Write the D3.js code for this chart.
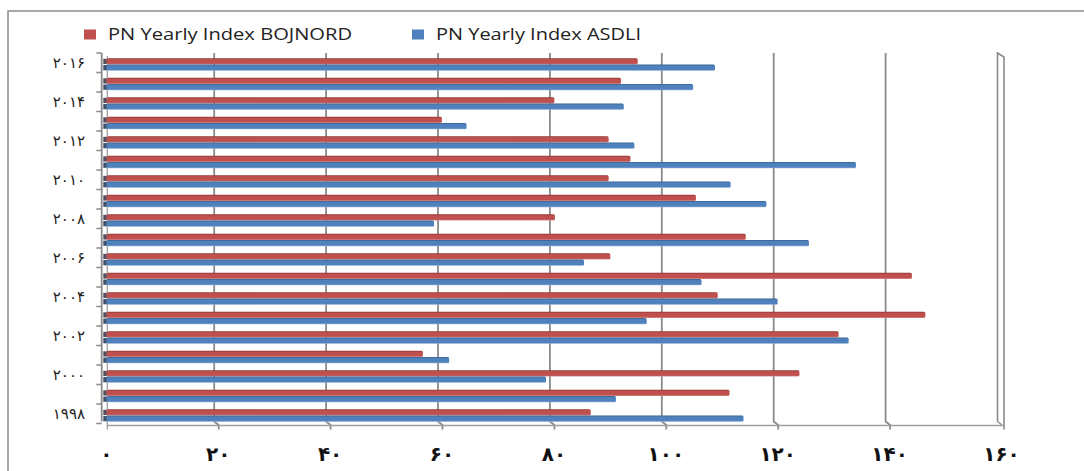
<!DOCTYPE html>
<html>
<head>
<meta charset="utf-8">
<script src="https://cdn.jsdelivr.net/npm/d3@7"></script>
<style>
  body { margin: 0; background: #fff; }
  svg { display: block; }
</style>
</head>
<body>
<svg id="chart" width="1084" height="471"></svg>
<script>
// years, bottom to top
var years = [1998, 1999, 2000, 2001, 2002, 2003, 2004, 2005, 2006, 2007,
             2008, 2009, 2010, 2011, 2012, 2013, 2014, 2015, 2016];
var bojnord = [87.3, 112.1, 124.6, 57.3, 131.6, 147.1, 110.0, 144.7, 90.8, 115.0,
               80.9, 106.1, 90.5, 94.4, 90.5, 60.7, 80.8, 92.7, 95.7];
var asdli = [114.6, 91.8, 79.3, 62.0, 133.4, 97.3, 120.7, 107.1, 86.1, 126.3,
             59.3, 118.7, 112.3, 134.7, 95.1, 65.1, 93.2, 105.6, 109.5];
var seriesNames = ['PN Yearly Index BOJNORD', 'PN Yearly Index ASDLI'];
var xTicks = [0, 20, 40, 60, 80, 100, 120, 140, 160];

var colors = ['#C0504D', '#4F81BD'];
var darks = ['#8E3431', '#35608F'];
var lights = ['#D99694', '#95B3D7'];

const fa = n => String(n).replace(/\d/g, d => '۰۱۲۳۴۵۶۷۸۹'[d]);

const svg = d3.select('svg#chart');

// outer frame
svg.append('rect')
  .attr('x', 8).attr('y', 11)
  .attr('width', 1090).attr('height', 480)
  .attr('fill', 'none').attr('stroke', '#8c8c8c').attr('stroke-width', 1.5);

const x = d3.scaleLinear().domain([0, 160]).range([102.3, 997.5]);
const y = d3.scaleBand().domain(years.slice().reverse()).range([53, 423.5]);
const sub = d3.scaleBand().domain([0, 1]).range([5.3, 17.8]);

const yTop = 53, yBot = 421.5;

// gradients for the bar faces
const defs = svg.append('defs');
colors.forEach((c, i) => {
  const g = defs.append('linearGradient').attr('id', 'g' + i)
    .attr('x1', 0).attr('y1', 0).attr('x2', 0).attr('y2', 1);
  g.append('stop').attr('offset', '0%').attr('stop-color', darks[i]);
  g.append('stop').attr('offset', '22%').attr('stop-color', c);
  g.append('stop').attr('offset', '80%').attr('stop-color', c);
  g.append('stop').attr('offset', '100%').attr('stop-color', lights[i]);
});

// vertical gridlines with the little 3D foot at the floor
const grid = svg.append('g');
xTicks.slice(1, -1).forEach(t => {
  grid.append('path')
    .attr('d', `M${x(t)},${yTop} L${x(t)},${yBot} L${x(t) + 4.5},${yBot + 3.5} L${x(t) + 4.5},${yBot + 8}`)
    .attr('fill', 'none').attr('stroke', '#8a8a8a').attr('stroke-width', 1.8);
});

// right wall
const xr = x(160);
grid.append('path')
  .attr('d', `M${xr},${yBot} L${xr},${yTop} L${xr + 6.5},${yTop + 4} L${xr + 6.5},${yBot + 8}`)
  .attr('fill', 'none').attr('stroke', '#8a8a8a').attr('stroke-width', 1.6);
grid.append('path')
  .attr('d', `M${xr},${yBot} L${xr + 4.5},${yBot + 3.5}`)
  .attr('fill', 'none').attr('stroke', '#8a8a8a').attr('stroke-width', 1.4);

// floor line
grid.append('line')
  .attr('x1', x(0) + 4.5).attr('x2', xr + 6.5)
  .attr('y1', yBot + 4).attr('y2', yBot + 4)
  .attr('stroke', '#a0a0a0').attr('stroke-width', 1.5);

// left wall and category ticks
const x0 = x(0);
grid.append('line')
  .attr('x1', x0 - 0.6).attr('x2', x0 - 0.6)
  .attr('y1', yTop).attr('y2', yBot)
  .attr('stroke', '#8a8a8a').attr('stroke-width', 1.8);
grid.append('line')
  .attr('x1', x0 + 5).attr('x2', x0 + 5)
  .attr('y1', yTop + 3).attr('y2', yBot + 8)
  .attr('stroke', '#a0a0a0').attr('stroke-width', 1.3);
const bounds = years.map(yr => y(yr)).concat([y.range()[1]]);
grid.selectAll('line.tick').data(bounds).enter().append('line')
  .attr('class', 'tick')
  .attr('x1', x0 - 6).attr('x2', x0 - 0.6)
  .attr('y1', d => d).attr('y2', d => d)
  .attr('stroke', '#8a8a8a').attr('stroke-width', 1.5);

// bars
const rows = years.map((yr, i) => ({ year: yr, vals: [bojnord[i], asdli[i]] }));
const row = svg.selectAll('g.row').data(rows).enter().append('g')
  .attr('class', 'row')
  .attr('transform', d => `translate(0,${y(d.year)})`);

[0, 1].forEach(s => {
  row.append('rect')
    .attr('x', x0 + 4.5)
    .attr('y', sub(s))
    .attr('width', d => x(d.vals[s]) - x0 - 4.5)
    .attr('height', sub.bandwidth())
    .attr('rx', 1.5)
    .attr('fill', `url(#g${s})`);
  row.append('rect')
    .attr('x', x0 + 1)
    .attr('y', sub(s) + 0.5)
    .attr('width', 3.5)
    .attr('height', sub.bandwidth() - 1)
    .attr('fill', s === 0 ? '#5a4a5a' : '#3a5270');
});

// year labels (every other year)
svg.selectAll('text.year').data(years.filter(yr => yr % 2 === 0)).enter().append('text')
  .attr('class', 'year')
  .attr('x', 85)
  .attr('y', d => y(d) + y.bandwidth() / 2 + 5)
  .attr('text-anchor', 'end')
  .style('font-family', 'DejaVu Sans')
  .style('font-size', '15px')
  .style('letter-spacing', '3.5px')
  .attr('fill', '#222')
  .text(d => fa(d));

// value axis labels
svg.selectAll('text.xt').data(xTicks).enter().append('text')
  .attr('class', 'xt')
  .attr('x', d => x(d) + 4)
  .attr('y', 461)
  .attr('text-anchor', 'middle')
  .style('font-family', 'DejaVu Sans')
  .style('font-weight', 'bold')
  .style('font-size', '20px')
  .attr('fill', '#111')
  .text(d => fa(d));

// legend
const legX = [84, 412];
const legW = [244, 205];
const leg = svg.selectAll('g.leg').data(seriesNames).enter().append('g')
  .attr('class', 'leg')
  .attr('transform', (d, i) => `translate(${legX[i]},29.5)`);
leg.append('rect')
  .attr('width', 12).attr('height', 10)
  .attr('fill', (d, i) => colors[i]);
leg.append('text')
  .attr('x', 24).attr('y', 10.5)
  .attr('textLength', (d, i) => legW[i])
  .attr('lengthAdjust', 'spacingAndGlyphs')
  .style('font-family', 'Open Sans')
  .style('font-size', '17px')
  .attr('fill', '#222')
  .text(d => d);
</script>
</body>
</html>
